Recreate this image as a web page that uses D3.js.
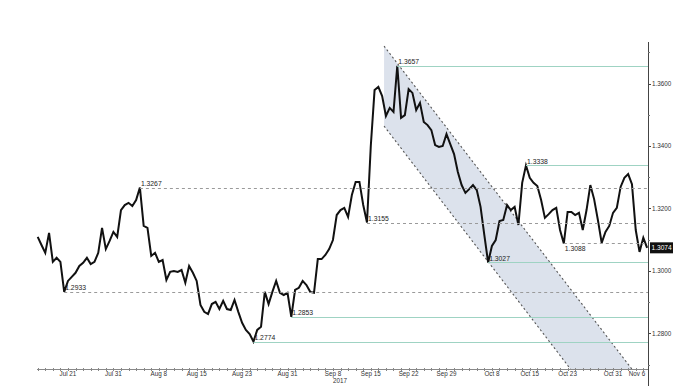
<!DOCTYPE html>
<html>
<head>
<meta charset="utf-8">
<script src="https://cdn.jsdelivr.net/npm/d3@7/dist/d3.min.js"></script>
<style>
  body { margin: 0; background: #fff; }
  svg { display: block; }
  text { font-family: "Liberation Sans", Arial, sans-serif; }
</style>
</head>
<body>
<svg id="chart" width="691" height="391"></svg>
<script>
// GBP/USD, one value per half trading day from Jul 17 to Nov 6 2017
var prices = [
  1.3109, 1.3083, 1.3058, 1.3122, 1.3029, 1.3042, 1.3029, 1.2933, 1.2968, 1.2981,
  1.2994, 1.3016, 1.3026, 1.3042, 1.3022, 1.3029, 1.3058, 1.3138, 1.3070, 1.3096,
  1.3125, 1.3109, 1.3195, 1.3211, 1.3218, 1.3208, 1.3227, 1.3267, 1.3144, 1.3138,
  1.3048, 1.3058, 1.3029, 1.3035, 1.2971, 1.2997, 1.3000, 1.2997, 1.3003, 1.2962,
  1.3016, 1.2994, 1.2968, 1.2891, 1.2869, 1.2862, 1.2894, 1.2901, 1.2878, 1.2904,
  1.2878, 1.2875, 1.2907, 1.2869, 1.2834, 1.2811, 1.2798, 1.2774, 1.2811, 1.2821,
  1.2933, 1.2894, 1.2933, 1.2968, 1.2930, 1.2923, 1.2930, 1.2853, 1.2939, 1.2946,
  1.2968, 1.2955, 1.2933, 1.2930, 1.3038, 1.3038, 1.3051, 1.3070, 1.3099, 1.3179,
  1.3195, 1.3202, 1.3173, 1.3243, 1.3285, 1.3285, 1.3211, 1.3155, 1.3400, 1.3579,
  1.3589, 1.3560, 1.3496, 1.3522, 1.3509, 1.3657, 1.3490, 1.3499, 1.3582, 1.3570,
  1.3515, 1.3538, 1.3477, 1.3467, 1.3451, 1.3403, 1.3397, 1.3400, 1.3438, 1.3406,
  1.3374, 1.3317, 1.3275, 1.3250, 1.3262, 1.3275, 1.3259, 1.3205, 1.3115, 1.3027,
  1.3080, 1.3099, 1.3160, 1.3163, 1.3211, 1.3195, 1.3205, 1.3147, 1.3282, 1.3338,
  1.3298, 1.3282, 1.3272, 1.3227, 1.3170, 1.3182, 1.3195, 1.3202, 1.3131, 1.3088,
  1.3189, 1.3189, 1.3179, 1.3186, 1.3131, 1.3195, 1.3275, 1.3230, 1.3163, 1.3090,
  1.3125, 1.3144, 1.3186, 1.3202, 1.3269, 1.3298, 1.3310, 1.3278, 1.3131, 1.3061,
  1.3106, 1.3074
];

// x axis labels and their trading-day index
var tickLabels = ["Jul 21", "Jul 31", "Aug 8", "Aug 15", "Aug 23", "Aug 31", "Sep 8",
                  "Sep 15", "Sep 22", "Sep 29", "Oct 8", "Oct 15", "Oct 23", "Oct 31", "Nov 6"];
var tickDays = [4, 10, 16, 21, 27, 33, 39, 44, 49, 54, 60, 65, 70, 76, 80];
var tradingDays = 81;

// right axis
var yTicks = [1.28, 1.30, 1.32, 1.34, 1.36];
var yMinorTicks = [1.27, 1.29, 1.31, 1.33, 1.35, 1.37];

// support / resistance levels, index = where the level was set
var levelValues = [1.3657, 1.3338, 1.3267, 1.3155, 1.3088, 1.3027, 1.2933, 1.2853, 1.2774];
var levelIndex  = [95, 129, 27, 87, 139, 119, 7, 67, 57];
var levelDashed = [false, false, true, true, true, false, true, false, false];
var levelBelow  = [false, false, false, false, true, false, false, false, false];

// falling channel
var channelIndex = [91.5, 165];
var channelUpper = [1.3720, 1.2559];
var channelLower = [1.3464, 1.2303];

var lastPrice = 1.3074;

var svg = d3.select("#chart");
var pLeft = 35, pRight = 648, pTop = 42, pBottom = 369;

var x = d3.scaleLinear().domain([0, prices.length - 1]).range([37.7, 647.1]);
var y = d3.scaleLinear().domain([1.2686, 1.3733]).range([pBottom, pTop]);

svg.append("clipPath").attr("id", "plot")
  .append("rect")
    .attr("x", pLeft).attr("y", pTop)
    .attr("width", pRight - pLeft).attr("height", pBottom - pTop);

var plot = svg.append("g").attr("clip-path", "url(#plot)");

// channel
var chan = [
  [x(channelIndex[0]), y(channelUpper[0])],
  [x(channelIndex[1]), y(channelUpper[1])],
  [x(channelIndex[1]), y(channelLower[1])],
  [x(channelIndex[0]), y(channelLower[0])]
];
plot.append("path")
    .attr("d", "M" + chan.join("L") + "Z")
    .style("fill", "#dce2ec");

plot.selectAll("chanline")
    .data([[chan[0], chan[1]], [chan[3], chan[2]]]).enter()
    .append("line")
      .attr("x1", function(d){ return d[0][0] })
      .attr("y1", function(d){ return d[0][1] })
      .attr("x2", function(d){ return d[1][0] })
      .attr("y2", function(d){ return d[1][1] })
      .style("stroke", "#555")
      .style("stroke-width", 1.1)
      .style("stroke-dasharray", "2,2.5");

// levels
svg.selectAll("levels")
    .data(levelValues).enter()
    .append("line")
      .attr("x1", function(d, i){ return x(levelIndex[i]) })
      .attr("x2", pRight)
      .attr("y1", function(d){ return Math.round(y(d)) + 0.5 })
      .attr("y2", function(d){ return Math.round(y(d)) + 0.5 })
      .style("stroke", function(d, i){ return levelDashed[i] ? "#9a9a9a" : "#9fd3c3" })
      .style("stroke-width", 1)
      .style("stroke-dasharray", function(d, i){ return levelDashed[i] ? "3,3" : null });

// price line
var line = d3.line()
    .x(function(d, i){ return x(i) })
    .y(function(d){ return y(d) });

plot.append("path")
    .datum(prices)
    .attr("d", line)
    .style("fill", "none")
    .style("stroke", "#111")
    .style("stroke-width", 2)
    .style("stroke-linejoin", "miter");

// level labels
svg.selectAll("levellabels")
    .data(levelValues).enter()
    .append("text")
      .attr("x", function(d, i){ return x(levelIndex[i]) + 1 })
      .attr("y", function(d, i){ return y(d) + (levelBelow[i] ? 7.5 : -1.5) })
      .style("font-size", "6.8px")
      .style("fill", "#222")
      .text(function(d){ return d.toFixed(4) });

// x axis
svg.append("line")
    .attr("x1", 37).attr("x2", pRight)
    .attr("y1", pBottom + 0.5).attr("y2", pBottom + 0.5)
    .style("stroke", "#888");

svg.selectAll("dayticks")
    .data(d3.range(tradingDays)).enter()
    .append("line")
      .attr("x1", function(d){ return Math.round(x(d * 2)) + 0.5 })
      .attr("x2", function(d){ return Math.round(x(d * 2)) + 0.5 })
      .attr("y1", pBottom - 1)
      .attr("y2", pBottom + 2)
      .style("stroke", "#888");

svg.selectAll("xlabels")
    .data(tickLabels).enter()
    .append("text")
      .attr("x", function(d, i){ return Math.min(x(tickDays[i] * 2), pRight - 11) })
      .attr("y", pBottom + 7)
      .attr("text-anchor", "middle")
      .style("font-size", "6.3px")
      .style("fill", "#333")
      .text(function(d){ return d });

svg.append("text")
    .attr("x", x(tickDays[6] * 2) + 7)
    .attr("y", pBottom + 14)
    .attr("text-anchor", "middle")
    .style("font-size", "6.3px")
    .style("fill", "#333")
    .text("2017");

// right axis
svg.append("line")
    .attr("x1", pRight + 0.5).attr("x2", pRight + 0.5)
    .attr("y1", pTop).attr("y2", 386)
    .style("stroke", "#444");

svg.selectAll("yminor")
    .data(yMinorTicks).enter()
    .append("line")
      .attr("x1", pRight).attr("x2", pRight + 2)
      .attr("y1", function(d){ return Math.round(y(d)) + 0.5 })
      .attr("y2", function(d){ return Math.round(y(d)) + 0.5 })
      .style("stroke", "#777");

svg.selectAll("yticks")
    .data(yTicks).enter()
    .append("line")
      .attr("x1", pRight).attr("x2", pRight + 3)
      .attr("y1", function(d){ return Math.round(y(d)) + 0.5 })
      .attr("y2", function(d){ return Math.round(y(d)) + 0.5 })
      .style("stroke", "#444");

svg.selectAll("ylabels")
    .data(yTicks).enter()
    .append("text")
      .attr("x", pRight + 4)
      .attr("y", function(d){ return y(d) + 2.3 })
      .style("font-size", "6.3px")
      .style("fill", "#333")
      .text(function(d){ return d.toFixed(4) });

// last price tag
svg.append("rect")
    .attr("x", pRight + 2)
    .attr("y", y(lastPrice) - 5.5)
    .attr("width", 23)
    .attr("height", 11)
    .style("fill", "#111");

svg.append("text")
    .attr("x", pRight + 3.5)
    .attr("y", y(lastPrice) + 2.4)
    .style("font-size", "6.6px")
    .style("fill", "#fff")
    .text(lastPrice.toFixed(4));
</script>
</body>
</html>
